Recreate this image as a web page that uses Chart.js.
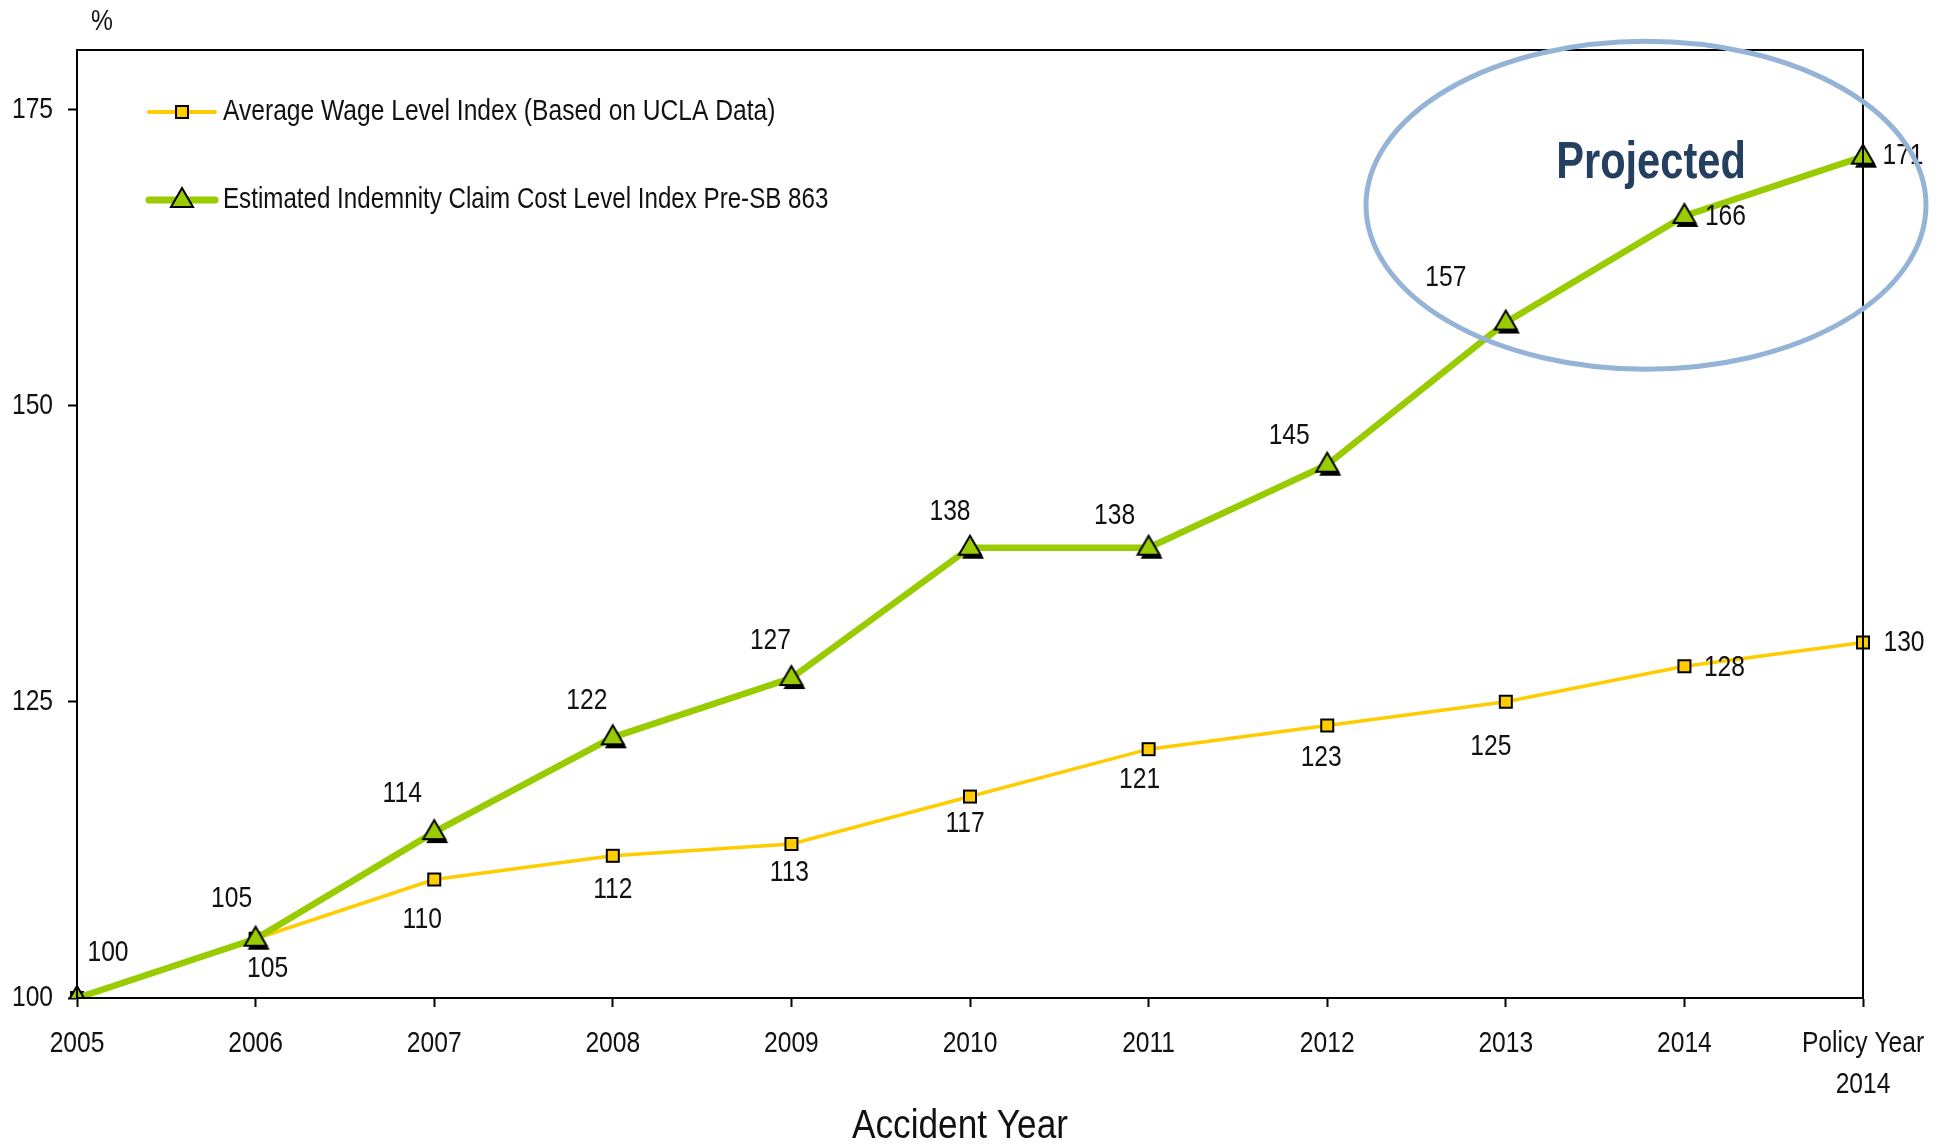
<!DOCTYPE html>
<html>
<head>
<meta charset="utf-8">
<script src="https://cdn.jsdelivr.net/npm/chart.js@4.4.1/dist/chart.umd.min.js"></script>
<style>
  html, body { margin: 0; padding: 0; background: #fff; }
  #wrap { width: 1948px; height: 1145px; }
</style>
</head>
<body>
<div id="wrap"><canvas id="myChart" width="1948" height="1145"></canvas></div>
<script>
const years = ['2005', '2006', '2007', '2008', '2009', '2010', '2011', '2012', '2013', '2014', ['Policy Year', '2014']];
const wageIndex = [100, 105, 110, 112, 113, 117, 121, 123, 125, 128, 130];
const claimIndex = [100, 105, 114, 122, 127, 138, 138, 145, 157, 166, 171];
const yTicks = [100, 125, 150, 175];

const wageLabel = 'Average Wage Level Index (Based on UCLA Data)';
const claimLabel = 'Estimated Indemnity Claim Cost Level Index Pre-SB 863';

// Liberation Sans squeezed to 82% looks like the narrow face of the original
const FONT = "'Liberation Sans', Arial, sans-serif";
const NARROW = 0.82;
const TXT = 30;

// label offsets in px from each point
const wageOffsets = [[31, -45], [12, 30], [-12, 40], [0, 34], [-2, 29], [-5, 27], [-9, 31], [-6, 32], [-15, 45], [40, 2], [41, 0]];
const claimOffsets = [null, [-24, -40], [-32, -38], [-26, -37], [-21, -37], [-20, -36], [-34, -32], [-38, -29], [-60, -45], [41, 1], [40, -1]];

function narrowText(ctx, text, x, y, size, align, opts) {
    opts = opts || {};
    ctx.save();
    ctx.font = (opts.weight || 'normal') + ' ' + size + 'px ' + FONT;
    ctx.fillStyle = opts.color || '#111';
    ctx.textAlign = align;
    ctx.textBaseline = 'middle';
    ctx.translate(x, y);
    ctx.scale(opts.sx || NARROW, 1);
    ctx.fillText(text, 0, 0);
    ctx.restore();
}

function squareMarker() {
    const c = document.createElement('canvas');
    c.width = 16; c.height = 16;
    const g = c.getContext('2d');
    g.fillStyle = '#FFCC00';
    g.strokeStyle = '#000';
    g.lineWidth = 2;
    g.fillRect(2, 2, 12, 12);
    g.strokeRect(2, 2, 12, 12);
    return c;
}

function triangleMarker(shadow) {
    const c = document.createElement('canvas');
    c.width = 36; c.height = 36;
    const g = c.getContext('2d');
    const tri = (dx, dy) => {
        g.beginPath();
        g.moveTo(18 + dx, 6 + dy);
        g.lineTo(29 + dx, 25 + dy);
        g.lineTo(7 + dx, 25 + dy);
        g.closePath();
    };
    if (shadow) {
        tri(3, 4);
        g.fillStyle = '#000';
        g.fill();
    }
    tri(0, 0);
    g.fillStyle = '#99CC00';
    g.fill();
    g.lineWidth = 2;
    g.strokeStyle = '#000';
    g.stroke();
    return c;
}

const sq = squareMarker();
const triShadow = triangleMarker(true);
const triPlain = triangleMarker(false);

const framePlugin = {
    id: 'frame',
    afterDraw(chart) {
        const ctx = chart.ctx;
        const a = chart.chartArea;
        ctx.save();
        ctx.strokeStyle = '#000';
        ctx.lineWidth = 2;
        ctx.strokeRect(a.left, a.top, a.right - a.left, a.bottom - a.top);
        ctx.restore();
    }
};

// tick labels and axis title, drawn at the scale's own tick positions
const axisTextPlugin = {
    id: 'axisText',
    afterDraw(chart) {
        const ctx = chart.ctx;
        const xs = chart.scales.x, ys = chart.scales.y;
        xs.ticks.forEach((t, i) => {
            const x = xs.getPixelForTick(i);
            const lab = years[i];
            const lines = Array.isArray(lab) ? lab : [lab];
            lines.forEach((s, k) => narrowText(ctx, s, x, xs.top + 46 + k * 41, TXT, 'center'));
        });
        ys.ticks.forEach((t, i) => {
            narrowText(ctx, String(t.value), xs.left - 24, ys.getPixelForTick(i), TXT, 'right');
        });
        narrowText(ctx, 'Accident Year', (xs.left + xs.right) / 2 - 10, 1127, 40, 'center', { sx: 0.88 });
        narrowText(ctx, '%', 102, 22, TXT, 'center');
    }
};

const labelsPlugin = {
    id: 'pointLabels',
    afterDatasetsDraw(chart) {
        const ctx = chart.ctx;
        chart.data.datasets.forEach((ds, i) => {
            const meta = chart.getDatasetMeta(i);
            meta.data.forEach((pt, j) => {
                const off = ds.labelOffsets[j];
                if (!off) return;
                narrowText(ctx, String(ds.data[j]), pt.x + off[0], pt.y + off[1], TXT, 'center');
            });
        });
    }
};

const extrasPlugin = {
    id: 'extras',
    afterDraw(chart) {
        const ctx = chart.ctx;
        const xs = chart.scales.x, ys = chart.scales.y;
        ctx.save();
        // legend
        const lx = xs.left + 72, ly = [112, 200];
        const items = [
            { text: wageLabel, color: '#FFCC00', width: 4, img: sq },
            { text: claimLabel, color: '#99CC00', width: 7, img: triPlain }
        ];
        items.forEach((it, k) => {
            const y = ly[k];
            ctx.strokeStyle = it.color;
            ctx.lineWidth = it.width;
            ctx.lineCap = 'round';
            ctx.beginPath();
            ctx.moveTo(lx, y);
            ctx.lineTo(lx + 66, y);
            ctx.stroke();
            ctx.drawImage(it.img, lx + 33 - it.img.width / 2, y - it.img.height / 2);
            narrowText(ctx, it.text, lx + 74, y, TXT, 'left', { sx: k === 1 ? 0.805 : NARROW });
        });

        // projected ellipse
        const cx = xs.getPixelForValue(8.785);
        const cy = ys.getPixelForValue(166.9);
        ctx.strokeStyle = '#95B3D7';
        ctx.lineWidth = 5;
        ctx.beginPath();
        ctx.ellipse(cx, cy, 280, 164, 0, 0, Math.PI * 2);
        ctx.stroke();
        ctx.restore();
        narrowText(ctx, 'Projected', 1651, ys.getPixelForValue(170.4), 52, 'center',
                   { color: '#243F60', sx: 0.8, weight: 'bold' });
    }
};

const ctx = document.getElementById('myChart').getContext('2d');
const chart = new Chart(ctx, {
    type: 'line',
    data: {
        labels: years,
        datasets: [{
            label: wageLabel,
            data: wageIndex,
            borderColor: '#FFCC00',
            borderWidth: 3.5,
            pointStyle: sq,
            pointRadius: 8,
            fill: false,
            tension: 0,
            order: 1,
            labelOffsets: wageOffsets
        }, {
            label: claimLabel,
            data: claimIndex,
            borderColor: '#99CC00',
            borderWidth: 6.5,
            pointStyle: triShadow,
            pointRadius: 15,
            fill: false,
            tension: 0,
            order: 0,
            labelOffsets: claimOffsets
        }]
    },
    options: {
        responsive: false,
        animation: false,
        events: [],
        layout: { padding: { left: 0, right: 85, top: 50, bottom: 0 } },
        plugins: {
            legend: { display: false },
            tooltip: { enabled: false }
        },
        scales: {
            x: {
                offset: false,
                afterFit(scale) { scale.height = 147; },
                grid: {
                    drawOnChartArea: false,
                    color: '#000',
                    tickLength: 9,
                    tickWidth: 2
                },
                border: { color: '#000', width: 2 },
                ticks: { display: false, autoSkip: false, maxRotation: 0 }
            },
            y: {
                min: 100,
                max: 180,
                afterFit(scale) { scale.width = 77; },
                afterBuildTicks(scale) { scale.ticks = yTicks.map(v => ({ value: v })); },
                grid: {
                    drawOnChartArea: false,
                    color: '#000',
                    tickLength: 9,
                    tickWidth: 2
                },
                border: { color: '#000', width: 2 },
                ticks: { display: false }
            }
        }
    },
    plugins: [framePlugin, labelsPlugin, axisTextPlugin, extrasPlugin]
});
</script>
</body>
</html>
